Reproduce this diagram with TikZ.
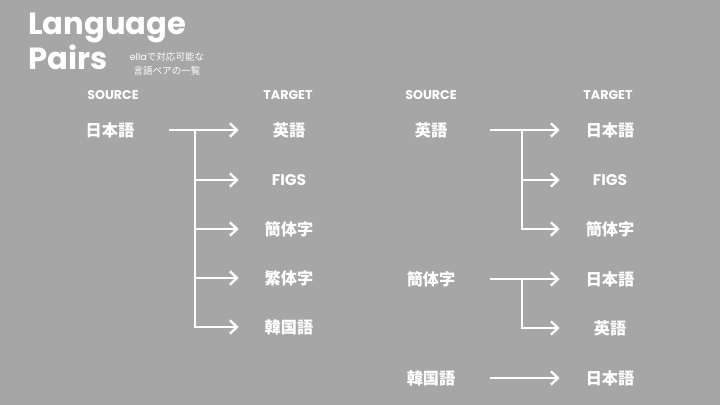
\documentclass[tikz,border=0pt]{standalone}
\usepackage{fontspec}
\setmainfont{Poppins}
\newfontfamily\jpfont{Noto Sans CJK JP}
\usetikzlibrary{arrows.meta}
\definecolor{slidegray}{RGB}{166,166,166}
\tikzset{
  lang/.style={
    text=white,
    font=\jpfont\bfseries\fontsize{11.5}{12}\selectfont,
    inner sep=0pt
  },
  node-src/.style={lang, minimum width=2.95cm},
  node-tgt/.style={lang, minimum width=2.5cm},
  latin/.style={font=\bfseries\fontsize{11}{12}\selectfont},
  head/.style={
    text=white,
    font=\bfseries\fontsize{9}{10}\selectfont,
    inner sep=0pt
  },
  title/.style={
    text=white,
    font=\bfseries\fontsize{21.8}{24}\selectfont,
    inner sep=0pt,
    anchor=base west
  },
  pair/.style={
    draw=white,
    line width=1.7pt,
    line join=miter,
    -{Straight Barb[length=5pt,width=9.5pt]}
  }
}
\newcommand{\slideframe}{%
  \useasboundingbox (0,0) rectangle (720,405);
  \fill[slidegray] (0,0) rectangle (720,405);
}

\begin{document}
\begin{tikzpicture}[x=0.025cm, y=-0.025cm]
  \slideframe
  \node[title] (title1) at (28,35) {Language};
  \node[title] (title2) at (28,70) {Pairs};
  \node[text=white, align=center, inner sep=0pt,
        font=\jpfont\fontsize{6.8}{10}\selectfont] (sub) at (167,64)
    {{\rmfamily ella}で対応可能な\\言語ペアの一覧};

  \node[head] (srcL) at (113,95) {SOURCE};
  \node[head] (tgtL) at (288,95) {TARGET};
  \node[node-src] (s1) at (110,130) {日本語};
  \node[node-tgt] (t11) at (289,130) {英語};
  \node[node-tgt, latin] (t12) at (289,180) {FIGS};
  \node[node-tgt] (t13) at (289,229) {簡体字};
  \node[node-tgt] (t14) at (289,278) {繁体字};
  \node[node-tgt] (t15) at (289,327) {韓国語};
  \coordinate (j1) at (195,130);
  \draw[pair] (s1) -- (t11);
  \foreach \t in {t12,t13,t14,t15} {
    \draw[pair] (j1) |- (\t);
  }

  \node[head] (srcR) at (431,95) {SOURCE};
  \node[head] (tgtR) at (608,95) {TARGET};
  \node[node-src] (s2) at (431,130) {英語};
  \node[node-tgt] (t21) at (610,130) {日本語};
  \node[node-tgt, latin] (t22) at (610,180) {FIGS};
  \node[node-tgt] (t23) at (610,229) {簡体字};
  \coordinate (j2) at (522,130);
  \draw[pair] (s2) -- (t21);
  \foreach \t in {t22,t23} {
    \draw[pair] (j2) |- (\t);
  }

  \node[node-src] (s3) at (431,279) {簡体字};
  \node[node-tgt] (t31) at (610,279) {日本語};
  \node[node-tgt] (t32) at (610,328) {英語};
  \coordinate (j3) at (522,279);
  \draw[pair] (s3) -- (t31);
  \draw[pair] (j3) |- (t32);

  \node[node-src] (s4) at (431,378) {韓国語};
  \node[node-tgt] (t41) at (610,378) {日本語};
  \draw[pair] (s4) -- (t41);
\end{tikzpicture}
\end{document}
